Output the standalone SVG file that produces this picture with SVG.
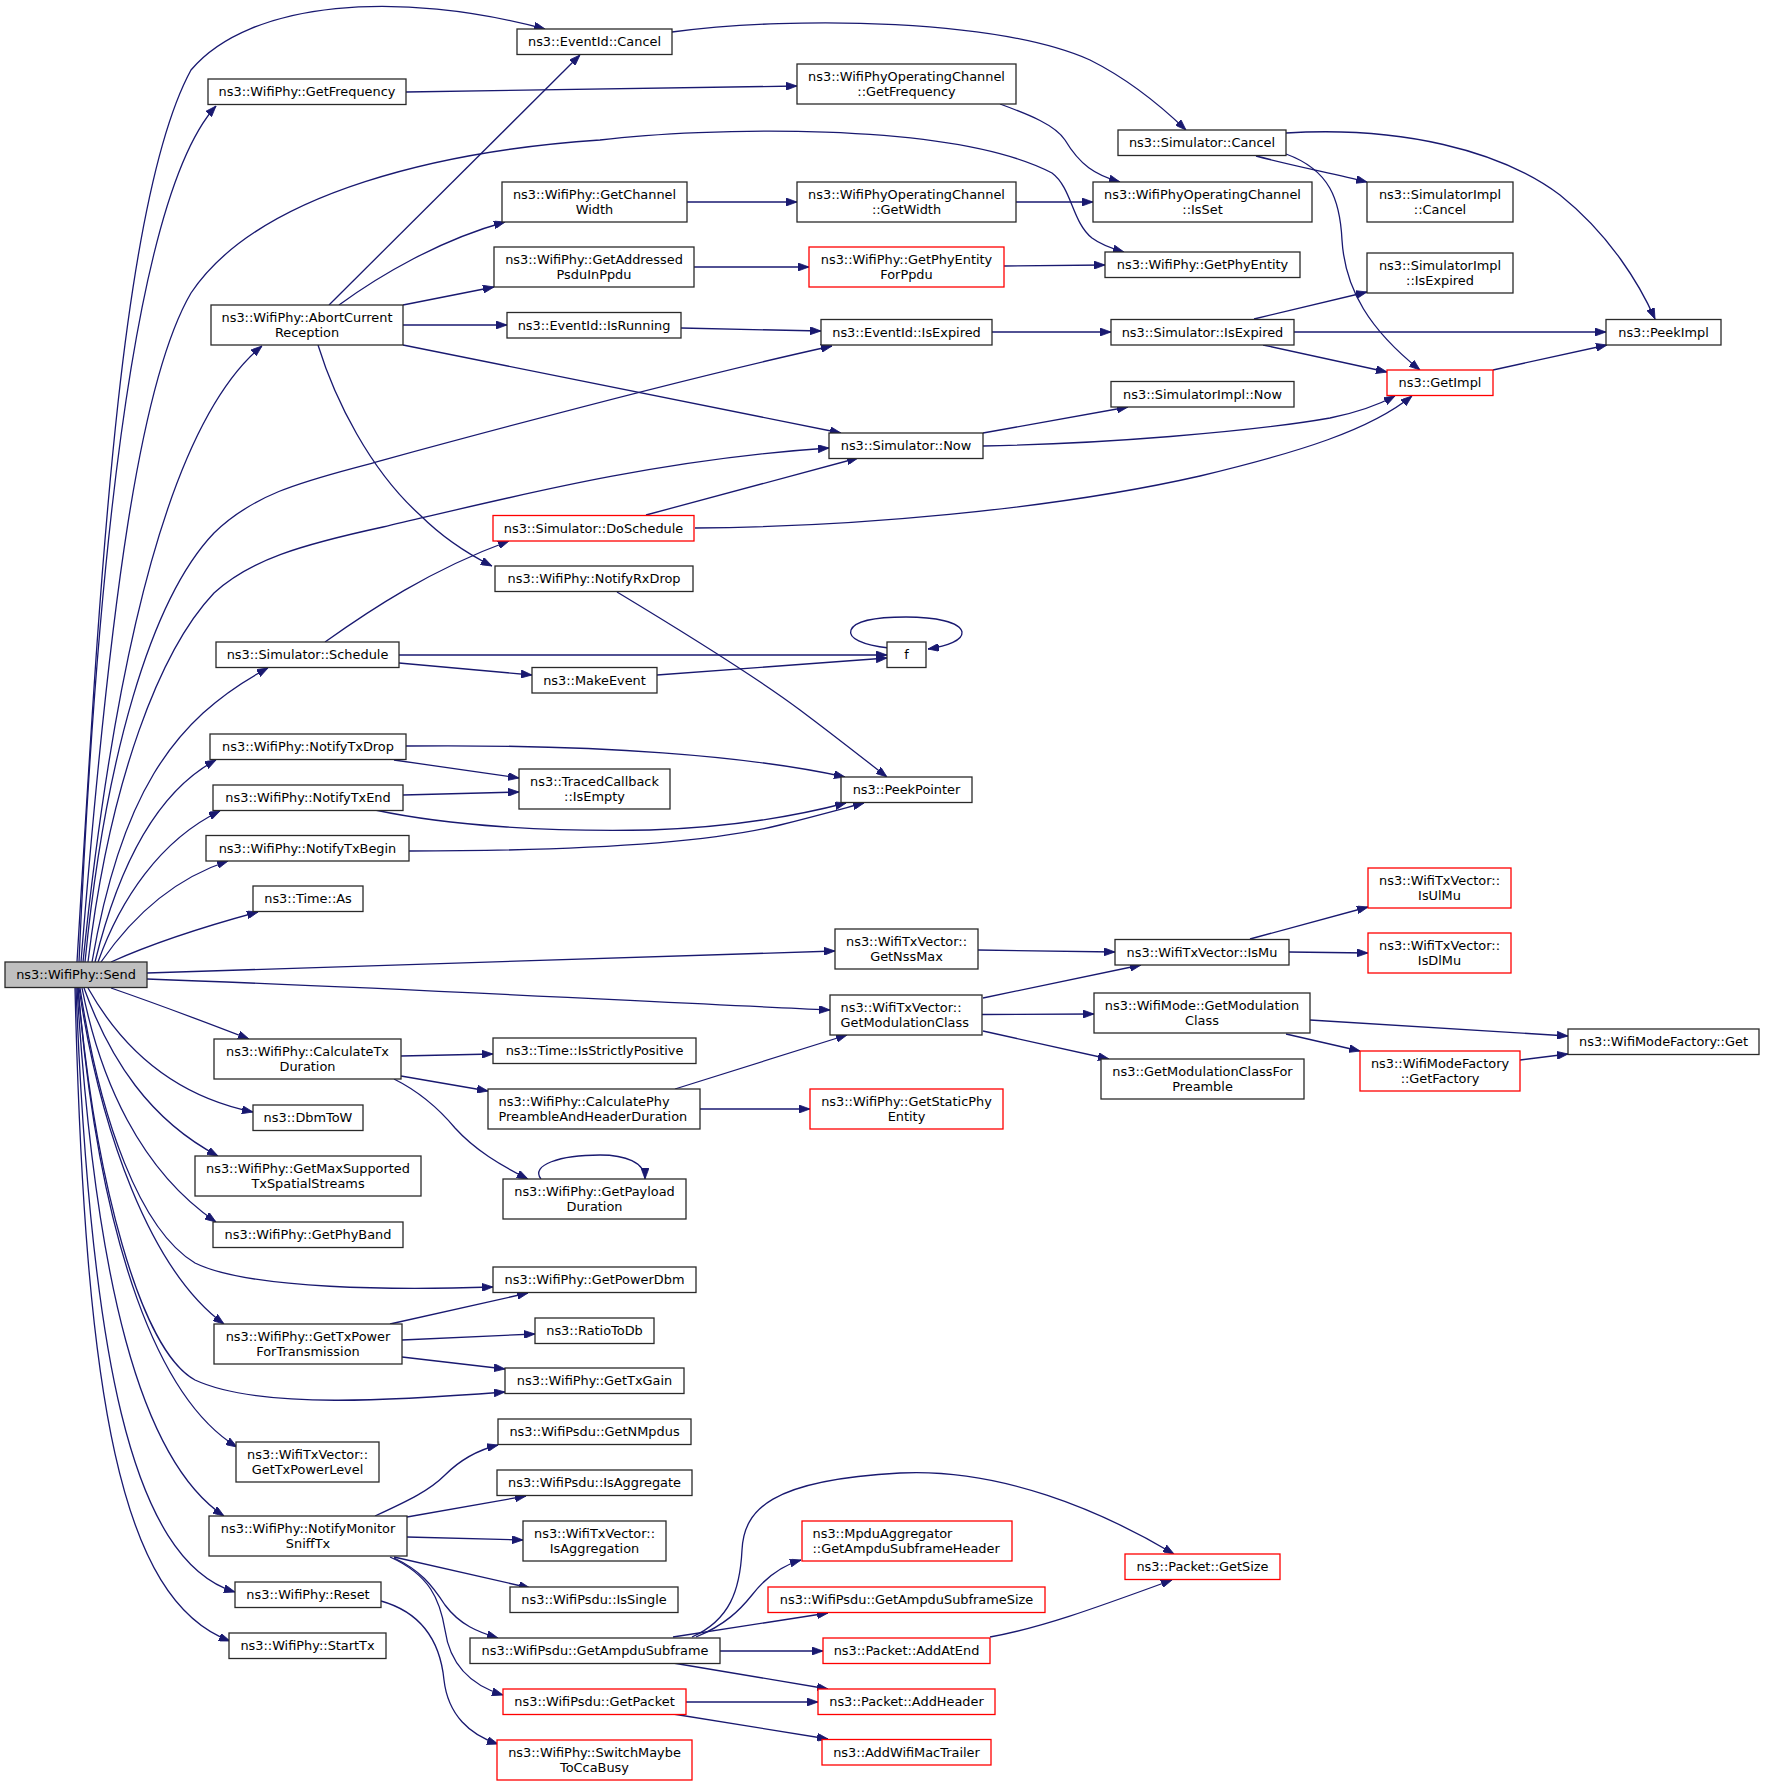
<svg xmlns="http://www.w3.org/2000/svg" width="1765" height="1786" viewBox="0 0 1765 1786">
<style>
.n rect{fill:#ffffff;stroke:#2a2a2a;stroke-width:1.3}
.r rect{stroke:#ff0000}
.g rect{fill:#bfbfbf}
text{font-family:"DejaVu Sans","Liberation Sans",sans-serif;font-size:12.9px;text-anchor:middle;fill:#000}
.l text{text-anchor:start}
#edges path{fill:none;stroke:#191970;stroke-width:1.3;marker-end:url(#arr)}
</style>
<defs>
<marker id="arr" markerUnits="userSpaceOnUse" markerWidth="11" markerHeight="8" refX="11" refY="4" orient="auto">
<path d="M0,0 L11,4 L0,8 z" fill="#191970" stroke="#191970" stroke-width="0.8"/>
</marker>
</defs>
<rect x="0" y="0" width="1765" height="1786" fill="#ffffff"/>
<g id="edges">
<path d="M77,962 C100,580 120,200 191,70 C250,0 400,-10 545,29"/>
<path d="M79,962 C95,600 130,200 216,106"/>
<path d="M81,962 C110,600 140,380 191,293 C260,190 450,150 600,140 C700,128 950,120 1052,173 C1072,188 1072,222 1092,238 C1100,244 1110,248 1124,252"/>
<path d="M83,962 C110,700 160,430 262,346"/>
<path d="M85,962 C105,760 150,600 214,533 C260,488 320,478 383,460 C530,420 700,375 832,346"/>
<path d="M88,962 C110,780 160,650 214,593 C250,560 300,545 383,527 C500,500 650,460 829,448"/>
<path d="M92,962 C120,800 170,720 268,668"/>
<path d="M95,962 C120,860 160,790 216,760"/>
<path d="M98,962 C120,900 160,840 220,811"/>
<path d="M101,962 C130,920 170,880 228,861"/>
<path d="M111,962 C160,940 210,925 258,912"/>
<path d="M147,973 C400,965 650,955 835,951"/>
<path d="M147,979 C400,988 650,1002 830,1010"/>
<path d="M111,988 C160,1005 205,1022 249,1039"/>
<path d="M88,988 C120,1045 170,1095 253,1112"/>
<path d="M84,988 C110,1060 150,1120 218,1156"/>
<path d="M82,988 C100,1080 140,1170 216,1222"/>
<path d="M80,988 C100,1120 140,1230 195,1263 C250,1290 400,1290 493,1287"/>
<path d="M79,988 C100,1130 150,1270 224,1324"/>
<path d="M78,988 C95,1180 140,1350 195,1380 C260,1410 400,1400 505,1392"/>
<path d="M78,988 C100,1250 160,1400 237,1447"/>
<path d="M77,988 C95,1280 140,1460 224,1516"/>
<path d="M76,988 C90,1350 130,1560 235,1592"/>
<path d="M75,988 C85,1400 120,1600 230,1641"/>
<path d="M406,92 C550,90 680,88 797,86"/>
<path d="M672,32 C800,15 1000,20 1090,60 C1130,80 1160,105 1186,130"/>
<path d="M1000,104 C1030,115 1055,125 1065,140 C1080,165 1095,175 1120,182"/>
<path d="M1256,156 C1290,165 1330,173 1367,182"/>
<path d="M1286,133 C1400,126 1500,150 1560,195 C1610,235 1640,285 1655,319"/>
<path d="M1286,154 C1330,170 1340,200 1342,240 C1345,290 1370,330 1420,370"/>
<path d="M687,202 L797,202"/>
<path d="M1016,202 L1093,202"/>
<path d="M694,267 L809,267"/>
<path d="M1004,266 L1105,265"/>
<path d="M329,305 L580,55"/>
<path d="M339,305 C380,275 440,240 505,222"/>
<path d="M403,305 L494,287"/>
<path d="M403,325 L507,325"/>
<path d="M403,345 L841,433"/>
<path d="M318,345 C335,400 370,470 420,515 C445,540 470,555 492,566"/>
<path d="M681,328 L821,331"/>
<path d="M992,332 L1111,332"/>
<path d="M1254,319 L1367,292"/>
<path d="M1294,332 L1606,332"/>
<path d="M1263,345 L1387,372"/>
<path d="M1493,370 L1607,345"/>
<path d="M983,433 L1128,407"/>
<path d="M983,446 C1100,444 1250,432 1330,418 C1360,412 1380,404 1395,396"/>
<path d="M646,515 L858,458"/>
<path d="M695,528 C850,527 1050,510 1200,476 C1300,452 1370,430 1412,396"/>
<path d="M617,592 C680,630 760,680 800,710 C840,740 865,760 887,777"/>
<path d="M325,642 C370,610 430,570 509,541"/>
<path d="M399,655 L887,655"/>
<path d="M399,663 L532,675"/>
<path d="M657,675 L887,658"/>
<path d="M889,648 C862,645 848,638 851,630 C855,620 880,617 906,617 C935,617 960,622 962,632 C963,640 948,646 928,649"/>
<path d="M406,746 C600,744 750,756 845,777"/>
<path d="M394,760 L519,778"/>
<path d="M403,795 L519,792"/>
<path d="M375,810 C450,826 550,832 650,830 C740,827 800,815 846,803"/>
<path d="M409,851 C550,851 700,845 780,825 C820,815 845,808 864,803"/>
<path d="M978,950 L1115,952"/>
<path d="M1250,939 L1368,907"/>
<path d="M1289,952 L1368,953"/>
<path d="M983,998 L1141,965"/>
<path d="M982,1014.5 L1094,1014"/>
<path d="M983,1031 L1109,1059"/>
<path d="M1310,1020 L1568,1036"/>
<path d="M1286,1034 L1360,1051"/>
<path d="M1520,1060 L1568,1054"/>
<path d="M401,1056 L493,1054"/>
<path d="M401,1076 L488,1091"/>
<path d="M394,1079 C420,1092 440,1110 455,1128 C475,1150 500,1165 528,1179"/>
<path d="M675,1089 L847,1035"/>
<path d="M700,1109 L810,1109"/>
<path d="M541,1179 C530,1165 560,1155 600,1155 C625,1155 645,1162 645,1179"/>
<path d="M390,1324 L528,1293"/>
<path d="M402,1340 L535,1334"/>
<path d="M402,1357 L505,1369"/>
<path d="M375,1516 C410,1500 430,1490 445,1475 C460,1460 478,1450 498,1445"/>
<path d="M407,1517 L526,1496"/>
<path d="M407,1537 L523,1540"/>
<path d="M394,1557 L530,1588"/>
<path d="M394,1558 C420,1570 432,1585 445,1605 C460,1625 478,1632 498,1638"/>
<path d="M390,1557 C430,1575 440,1600 445,1630 C450,1665 470,1685 503,1695"/>
<path d="M381,1601 C420,1612 440,1640 444,1680 C448,1715 470,1735 498,1744"/>
<path d="M692,1637 C730,1620 740,1590 742,1550 C744,1510 770,1480 900,1473 C1000,1468 1100,1510 1174,1554"/>
<path d="M696,1637 C725,1625 740,1610 752,1595 C765,1578 780,1566 801,1560"/>
<path d="M673,1637 L828,1613"/>
<path d="M720,1651 L823,1651"/>
<path d="M673,1663 L828,1689"/>
<path d="M990,1637 C1040,1628 1090,1610 1172,1580"/>
<path d="M686,1702 L818,1702"/>
<path d="M673,1714 L828,1739"/>
</g>
<g id="send" class="n g"><rect x="5" y="962" width="142" height="25.5"/><text x="76" y="979.25">ns3::WifiPhy::Send</text></g>
<g id="evCancel" class="n"><rect x="517" y="29" width="155" height="25.5"/><text x="594.5" y="46.25">ns3::EventId::Cancel</text></g>
<g id="getFreq" class="n"><rect x="208" y="79" width="198" height="25.5"/><text x="307" y="96.25">ns3::WifiPhy::GetFrequency</text></g>
<g id="ocGetFreq" class="n"><rect x="797" y="64" width="219" height="40"/><text><tspan x="906.5" y="81">ns3::WifiPhyOperatingChannel</tspan><tspan x="906.5" y="96">::GetFrequency</tspan></text></g>
<g id="simCancel" class="n"><rect x="1118" y="130" width="168" height="25.5"/><text x="1202" y="147.25">ns3::Simulator::Cancel</text></g>
<g id="getChW" class="n"><rect x="502" y="182" width="185" height="40"/><text><tspan x="594.5" y="199">ns3::WifiPhy::GetChannel</tspan><tspan x="594.5" y="214">Width</tspan></text></g>
<g id="ocGetW" class="n"><rect x="797" y="182" width="219" height="40"/><text><tspan x="906.5" y="199">ns3::WifiPhyOperatingChannel</tspan><tspan x="906.5" y="214">::GetWidth</tspan></text></g>
<g id="ocIsSet" class="n"><rect x="1093" y="182" width="219" height="40"/><text><tspan x="1202.5" y="199">ns3::WifiPhyOperatingChannel</tspan><tspan x="1202.5" y="214">::IsSet</tspan></text></g>
<g id="simImplCancel" class="n"><rect x="1367" y="182" width="146" height="40"/><text><tspan x="1440" y="199">ns3::SimulatorImpl</tspan><tspan x="1440" y="214">::Cancel</tspan></text></g>
<g id="getAddr" class="n"><rect x="494" y="247" width="200" height="40"/><text><tspan x="594" y="264">ns3::WifiPhy::GetAddressed</tspan><tspan x="594" y="279">PsduInPpdu</tspan></text></g>
<g id="getPEForPpdu" class="n r"><rect x="809" y="247" width="195" height="40"/><text><tspan x="906.5" y="264">ns3::WifiPhy::GetPhyEntity</tspan><tspan x="906.5" y="279">ForPpdu</tspan></text></g>
<g id="getPE" class="n"><rect x="1105" y="252" width="195" height="25.5"/><text x="1202.5" y="269.25">ns3::WifiPhy::GetPhyEntity</text></g>
<g id="simImplIsExp" class="n"><rect x="1367" y="253" width="146" height="40"/><text><tspan x="1440" y="270">ns3::SimulatorImpl</tspan><tspan x="1440" y="285">::IsExpired</tspan></text></g>
<g id="abort" class="n"><rect x="211" y="305" width="192" height="40"/><text><tspan x="307" y="322">ns3::WifiPhy::AbortCurrent</tspan><tspan x="307" y="337">Reception</tspan></text></g>
<g id="evIsRunning" class="n"><rect x="507" y="312.5" width="174" height="25.5"/><text x="594" y="329.75">ns3::EventId::IsRunning</text></g>
<g id="evIsExp" class="n"><rect x="821" y="319.5" width="171" height="25.5"/><text x="906.5" y="336.75">ns3::EventId::IsExpired</text></g>
<g id="simIsExp" class="n"><rect x="1111" y="319.5" width="183" height="25.5"/><text x="1202.5" y="336.75">ns3::Simulator::IsExpired</text></g>
<g id="peekImpl" class="n"><rect x="1606" y="319.5" width="115" height="25.5"/><text x="1663.5" y="336.75">ns3::PeekImpl</text></g>
<g id="getImpl" class="n r"><rect x="1387" y="370" width="106" height="25.5"/><text x="1440" y="387.25">ns3::GetImpl</text></g>
<g id="simImplNow" class="n"><rect x="1111" y="381.5" width="183" height="25.5"/><text x="1202.5" y="398.75">ns3::SimulatorImpl::Now</text></g>
<g id="simNow" class="n"><rect x="829" y="433" width="154" height="25.5"/><text x="906" y="450.25">ns3::Simulator::Now</text></g>
<g id="doSchedule" class="n r"><rect x="493" y="515.5" width="201" height="25.5"/><text x="593.5" y="532.75">ns3::Simulator::DoSchedule</text></g>
<g id="notifyRxDrop" class="n"><rect x="495" y="566" width="198" height="25.5"/><text x="594" y="583.25">ns3::WifiPhy::NotifyRxDrop</text></g>
<g id="schedule" class="n"><rect x="216" y="642" width="183" height="25.5"/><text x="307.5" y="659.25">ns3::Simulator::Schedule</text></g>
<g id="f" class="n"><rect x="887" y="642" width="39" height="25.5"/><text x="906.5" y="659.25">f</text></g>
<g id="makeEvent" class="n"><rect x="532" y="667.5" width="125" height="25.5"/><text x="594.5" y="684.75">ns3::MakeEvent</text></g>
<g id="notifyTxDrop" class="n"><rect x="210" y="734" width="196" height="25.5"/><text x="308" y="751.25">ns3::WifiPhy::NotifyTxDrop</text></g>
<g id="tracedIsEmpty" class="n"><rect x="519" y="769" width="151" height="40"/><text><tspan x="594.5" y="786">ns3::TracedCallback</tspan><tspan x="594.5" y="801">::IsEmpty</tspan></text></g>
<g id="peekPointer" class="n"><rect x="841" y="777" width="131" height="25.5"/><text x="906.5" y="794.25">ns3::PeekPointer</text></g>
<g id="notifyTxEnd" class="n"><rect x="213" y="785" width="190" height="25.5"/><text x="308" y="802.25">ns3::WifiPhy::NotifyTxEnd</text></g>
<g id="notifyTxBegin" class="n"><rect x="206" y="835.5" width="203" height="25.5"/><text x="307.5" y="852.75">ns3::WifiPhy::NotifyTxBegin</text></g>
<g id="timeAs" class="n"><rect x="253" y="886" width="110" height="25.5"/><text x="308" y="903.25">ns3::Time::As</text></g>
<g id="isUlMu" class="n r"><rect x="1368" y="868" width="143" height="40"/><text><tspan x="1439.5" y="885">ns3::WifiTxVector::</tspan><tspan x="1439.5" y="900">IsUlMu</tspan></text></g>
<g id="getNssMax" class="n"><rect x="835" y="929" width="143" height="40"/><text><tspan x="906.5" y="946">ns3::WifiTxVector::</tspan><tspan x="906.5" y="961">GetNssMax</tspan></text></g>
<g id="isMu" class="n"><rect x="1115" y="939.5" width="174" height="25.5"/><text x="1202" y="956.75">ns3::WifiTxVector::IsMu</text></g>
<g id="isDlMu" class="n r"><rect x="1368" y="933" width="143" height="40"/><text><tspan x="1439.5" y="950">ns3::WifiTxVector::</tspan><tspan x="1439.5" y="965">IsDlMu</tspan></text></g>
<g id="getModClass" class="n l"><rect x="830" y="995" width="152" height="40"/><text><tspan x="840.5" y="1012">ns3::WifiTxVector::</tspan><tspan x="840.5" y="1027">GetModulationClass</tspan></text></g>
<g id="wmGetModClass" class="n"><rect x="1094" y="993" width="216" height="40"/><text><tspan x="1202" y="1010">ns3::WifiMode::GetModulation</tspan><tspan x="1202" y="1025">Class</tspan></text></g>
<g id="wmfGet" class="n"><rect x="1568" y="1029" width="191" height="25.5"/><text x="1663.5" y="1046.25">ns3::WifiModeFactory::Get</text></g>
<g id="calcTxDur" class="n"><rect x="214" y="1039" width="187" height="40"/><text><tspan x="307.5" y="1056">ns3::WifiPhy::CalculateTx</tspan><tspan x="307.5" y="1071">Duration</tspan></text></g>
<g id="isStrictlyPos" class="n"><rect x="493" y="1038" width="203" height="25.5"/><text x="594.5" y="1055.25">ns3::Time::IsStrictlyPositive</text></g>
<g id="getModClassForPre" class="n"><rect x="1101" y="1059" width="203" height="40"/><text><tspan x="1202.5" y="1076">ns3::GetModulationClassFor</tspan><tspan x="1202.5" y="1091">Preamble</tspan></text></g>
<g id="wmfGetFactory" class="n r"><rect x="1360" y="1051" width="160" height="40"/><text><tspan x="1440" y="1068">ns3::WifiModeFactory</tspan><tspan x="1440" y="1083">::GetFactory</tspan></text></g>
<g id="calcPhyPre" class="n l"><rect x="488" y="1089" width="212" height="40"/><text><tspan x="498.5" y="1106">ns3::WifiPhy::CalculatePhy</tspan><tspan x="498.5" y="1121">PreambleAndHeaderDuration</tspan></text></g>
<g id="getStaticPE" class="n r"><rect x="810" y="1089" width="193" height="40"/><text><tspan x="906.5" y="1106">ns3::WifiPhy::GetStaticPhy</tspan><tspan x="906.5" y="1121">Entity</tspan></text></g>
<g id="dbmToW" class="n"><rect x="253" y="1105" width="110" height="25.5"/><text x="308" y="1122.25">ns3::DbmToW</text></g>
<g id="getMaxSup" class="n"><rect x="195" y="1156" width="226" height="40"/><text><tspan x="308" y="1173">ns3::WifiPhy::GetMaxSupported</tspan><tspan x="308" y="1188">TxSpatialStreams</tspan></text></g>
<g id="getPayloadDur" class="n"><rect x="503" y="1179" width="183" height="40"/><text><tspan x="594.5" y="1196">ns3::WifiPhy::GetPayload</tspan><tspan x="594.5" y="1211">Duration</tspan></text></g>
<g id="getPhyBand" class="n"><rect x="213" y="1222" width="190" height="25.5"/><text x="308" y="1239.25">ns3::WifiPhy::GetPhyBand</text></g>
<g id="getPowerDbm" class="n"><rect x="493" y="1267" width="203" height="25.5"/><text x="594.5" y="1284.25">ns3::WifiPhy::GetPowerDbm</text></g>
<g id="getTxPowerForTx" class="n"><rect x="214" y="1324" width="188" height="40"/><text><tspan x="308" y="1341">ns3::WifiPhy::GetTxPower</tspan><tspan x="308" y="1356">ForTransmission</tspan></text></g>
<g id="ratioToDb" class="n"><rect x="535" y="1318" width="119" height="25.5"/><text x="594.5" y="1335.25">ns3::RatioToDb</text></g>
<g id="getTxGain" class="n"><rect x="505" y="1368" width="179" height="25.5"/><text x="594.5" y="1385.25">ns3::WifiPhy::GetTxGain</text></g>
<g id="getTxPowerLevel" class="n"><rect x="236" y="1442" width="143" height="40"/><text><tspan x="307.5" y="1459">ns3::WifiTxVector::</tspan><tspan x="307.5" y="1474">GetTxPowerLevel</tspan></text></g>
<g id="getNMpdus" class="n"><rect x="498" y="1419" width="193" height="25.5"/><text x="594.5" y="1436.25">ns3::WifiPsdu::GetNMpdus</text></g>
<g id="isAggregate" class="n"><rect x="497" y="1470" width="195" height="25.5"/><text x="594.5" y="1487.25">ns3::WifiPsdu::IsAggregate</text></g>
<g id="notifyMonitor" class="n"><rect x="209" y="1516" width="198" height="40"/><text><tspan x="308" y="1533">ns3::WifiPhy::NotifyMonitor</tspan><tspan x="308" y="1548">SniffTx</tspan></text></g>
<g id="isAggregation" class="n"><rect x="523" y="1521" width="143" height="40"/><text><tspan x="594.5" y="1538">ns3::WifiTxVector::</tspan><tspan x="594.5" y="1553">IsAggregation</tspan></text></g>
<g id="mpduAgg" class="n r l"><rect x="802" y="1521" width="210" height="40"/><text><tspan x="812.5" y="1538">ns3::MpduAggregator</tspan><tspan x="812.5" y="1553">::GetAmpduSubframeHeader</tspan></text></g>
<g id="getSize" class="n r"><rect x="1125" y="1554" width="155" height="25.5"/><text x="1202.5" y="1571.25">ns3::Packet::GetSize</text></g>
<g id="isSingle" class="n"><rect x="510" y="1587" width="168" height="25.5"/><text x="594" y="1604.25">ns3::WifiPsdu::IsSingle</text></g>
<g id="reset" class="n"><rect x="235" y="1582" width="146" height="25.5"/><text x="308" y="1599.25">ns3::WifiPhy::Reset</text></g>
<g id="getAmpduSubframeSize" class="n r"><rect x="768" y="1587" width="277" height="25.5"/><text x="906.5" y="1604.25">ns3::WifiPsdu::GetAmpduSubframeSize</text></g>
<g id="getAmpduSubframe" class="n"><rect x="470" y="1638" width="250" height="25.5"/><text x="595" y="1655.25">ns3::WifiPsdu::GetAmpduSubframe</text></g>
<g id="addAtEnd" class="n r"><rect x="823" y="1638" width="167" height="25.5"/><text x="906.5" y="1655.25">ns3::Packet::AddAtEnd</text></g>
<g id="startTx" class="n"><rect x="229" y="1633" width="157" height="25.5"/><text x="307.5" y="1650.25">ns3::WifiPhy::StartTx</text></g>
<g id="getPacket" class="n r"><rect x="503" y="1689" width="183" height="25.5"/><text x="594.5" y="1706.25">ns3::WifiPsdu::GetPacket</text></g>
<g id="addHeader" class="n r"><rect x="818" y="1689" width="177" height="25.5"/><text x="906.5" y="1706.25">ns3::Packet::AddHeader</text></g>
<g id="addWifiMacTrailer" class="n r"><rect x="822" y="1739.5" width="169" height="25.5"/><text x="906.5" y="1756.75">ns3::AddWifiMacTrailer</text></g>
<g id="switchMaybe" class="n r"><rect x="497" y="1740" width="195" height="40"/><text><tspan x="594.5" y="1757">ns3::WifiPhy::SwitchMaybe</tspan><tspan x="594.5" y="1772">ToCcaBusy</tspan></text></g>
</svg>
